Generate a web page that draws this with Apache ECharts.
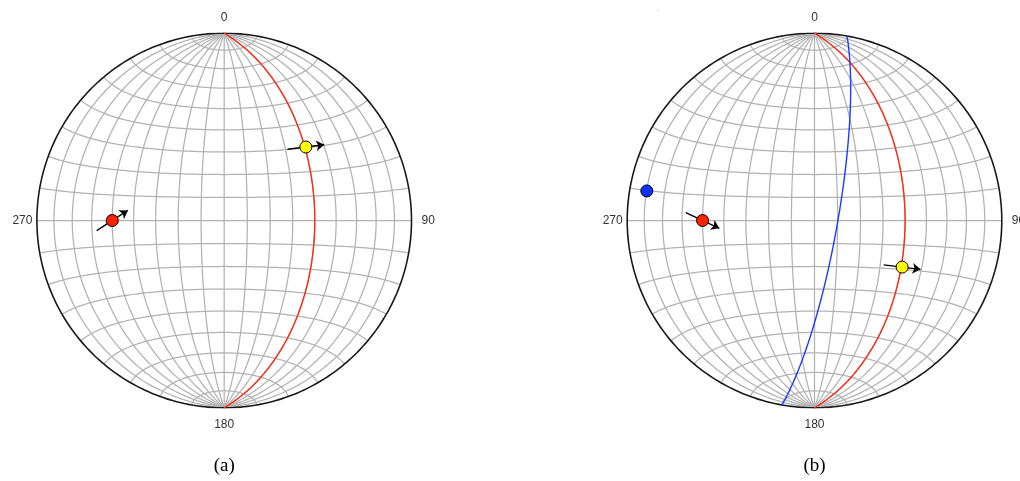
<!DOCTYPE html>
<html>
<head>
<meta charset="utf-8">
<script src="https://cdn.jsdelivr.net/npm/echarts@6/dist/echarts.min.js"></script>
<style>
html,body{margin:0;padding:0;background:#fff;}
#chart{width:1020px;height:481px;}
</style>
</head>
<body>
<div id="chart"></div>
<script>
// ---- Data (equal-area lower-hemisphere stereonets) ----
const panelLabels = ['(a)', '(b)'];
const directionLabels = ['0', '90', '180', '270'];

// Panel (a): one plane, its pole and a slip lineation
const planeA_dipDir = [90];
const planeA_dip = [50];
const planeA_color = ['#ff2a12'];
const pointA_trend = [270, 48];
const pointA_plunge = [40, 41];
const pointA_color = ['#ff2200', '#ffff00'];
const pointA_arrowAz = [57, 83];

// Panel (b): two planes, poles and slip lineation
const planeB_dipDir = [90, 100];
const planeB_dip = [50, 80];
const planeB_color = ['#ff2a12', '#1a3cff'];
const pointB_trend = [280, 270, 118];
const pointB_plunge = [10, 40, 46];
const pointB_color = ['#0a32ff', '#ff2200', '#ffff00'];
const pointB_arrowAz = [null, 115, 97];

// net grid spacing (degrees)
const gridStep = 10;

// ---- Projection helpers ----
const rad = Math.PI / 180;
function proj(e, n, d) {
  const k = 1 / Math.sqrt(1 + d);
  return [e * k, n * k];
}
function lineProj(trend, plunge) {
  const t = trend * rad, p = plunge * rad;
  return proj(Math.cos(p) * Math.sin(t), Math.cos(p) * Math.cos(t), Math.sin(p));
}
function netLines() {
  const out = [];
  for (let lam = -90 + gridStep; lam < 90; lam += gridStep) {
    const c = [];
    for (let phi = -90; phi <= 90; phi += 1) {
      const l = lam * rad, f = phi * rad;
      c.push(proj(Math.cos(f) * Math.sin(l), Math.sin(f), Math.cos(f) * Math.cos(l)));
    }
    out.push({ coords: c });
  }
  for (let phi = -90 + gridStep; phi < 90; phi += gridStep) {
    const c = [];
    for (let lam = -90; lam <= 90; lam += 1) {
      const l = lam * rad, f = phi * rad;
      c.push(proj(Math.cos(f) * Math.sin(l), Math.sin(f), Math.cos(f) * Math.cos(l)));
    }
    out.push({ coords: c });
  }
  return out;
}
function primitive() {
  const c = [];
  for (let a = 0; a <= 360; a += 1) c.push([Math.sin(a * rad), Math.cos(a * rad)]);
  return [{ coords: c }];
}
function greatCircle(dd, dip) {
  const s = [(Math.sin((dd - 90) * rad)), Math.cos((dd - 90) * rad), 0];
  const dv = [Math.cos(dip * rad) * Math.sin(dd * rad), Math.cos(dip * rad) * Math.cos(dd * rad), Math.sin(dip * rad)];
  const c = [];
  for (let t = 0; t <= 180; t += 1) {
    const ct = Math.cos(t * rad), st = Math.sin(t * rad);
    c.push(proj(ct * s[0] + st * dv[0], ct * s[1] + st * dv[1], ct * s[2] + st * dv[2]));
  }
  return c;
}
const arrowHalf = 0.099;
function arrows(trends, plunges, azs) {
  const out = [];
  trends.forEach((t, i) => {
    if (azs[i] == null) return;
    const p = lineProj(t, plunges[i]);
    const a = azs[i] * rad;
    out.push({ coords: [[p[0] - arrowHalf * Math.sin(a), p[1] - arrowHalf * Math.cos(a)],
                        [p[0] + arrowHalf * Math.sin(a), p[1] + arrowHalf * Math.cos(a)]] });
  });
  return out;
}

// ---- Build option ----
const R = 187.3;
const centers = [[224.2, 220.5], [814.5, 220.5]];
const series = [];
const grids = [], xAxes = [], yAxes = [];
const panels = [
  { dd: planeA_dipDir, dip: planeA_dip, pc: planeA_color, tr: pointA_trend, pl: pointA_plunge, col: pointA_color, az: pointA_arrowAz },
  { dd: planeB_dipDir, dip: planeB_dip, pc: planeB_color, tr: pointB_trend, pl: pointB_plunge, col: pointB_color, az: pointB_arrowAz }
];
panels.forEach((P, gi) => {
  const [cx, cy] = centers[gi];
  grids.push({ left: cx - R, top: cy - R, width: 2 * R, height: 2 * R, show: false });
  xAxes.push({ type: 'value', gridIndex: gi, min: -1, max: 1, show: false });
  yAxes.push({ type: 'value', gridIndex: gi, min: -1, max: 1, show: false });
  series.push({ type: 'lines', coordinateSystem: 'cartesian2d', xAxisIndex: gi, yAxisIndex: gi, polyline: true,
    data: netLines(), lineStyle: { color: '#b2b2b2', width: 1.25, opacity: 1 }, silent: true, z: 1 });
  series.push({ type: 'lines', coordinateSystem: 'cartesian2d', xAxisIndex: gi, yAxisIndex: gi, polyline: true,
    data: primitive(), lineStyle: { color: '#1a1a1a', width: 1.6, opacity: 1 }, silent: true, z: 2 });
  P.dd.forEach((d, k) => {
    series.push({ type: 'lines', coordinateSystem: 'cartesian2d', xAxisIndex: gi, yAxisIndex: gi, polyline: true,
      data: [{ coords: greatCircle(d, P.dip[k]) }], lineStyle: { color: P.pc[k], width: 1.4, opacity: 1 }, silent: true, z: 3 });
  });
  series.push({ type: 'lines', coordinateSystem: 'cartesian2d', xAxisIndex: gi, yAxisIndex: gi,
    data: arrows(P.tr, P.pl, P.az), symbol: ['none', 'arrow'], symbolSize: 8,
    lineStyle: { color: '#000', width: 1.3, opacity: 1 }, itemStyle: { color: '#000' }, silent: true, z: 4 });
  series.push({ type: 'scatter', xAxisIndex: gi, yAxisIndex: gi, symbolSize: 12,
    data: P.tr.map((t, i) => ({ value: lineProj(t, P.pl[i]), itemStyle: { color: P.col[i] } })),
    itemStyle: { borderColor: '#000', borderWidth: 1, opacity: 1 }, z: 5 });
});

const labelStyle = { fill: '#333', fontSize: 12, fontFamily: 'Liberation Sans, Arial, sans-serif' };
const graphics = [];
centers.forEach(([cx, cy], gi) => {
  graphics.push({ type: 'text', x: cx, y: cy - R - 16, style: Object.assign({ text: directionLabels[0], align: 'center', verticalAlign: 'middle' }, labelStyle) });
  graphics.push({ type: 'text', x: cx + R + 10, y: cy, style: Object.assign({ text: directionLabels[1], align: 'left', verticalAlign: 'middle' }, labelStyle) });
  graphics.push({ type: 'text', x: cx, y: cy + R + 17, style: Object.assign({ text: directionLabels[2], align: 'center', verticalAlign: 'middle' }, labelStyle) });
  graphics.push({ type: 'text', x: cx - R - 4.5, y: cy, style: Object.assign({ text: directionLabels[3], align: 'right', verticalAlign: 'middle' }, labelStyle) });
  graphics.push({ type: 'text', x: cx, y: 466, style: { text: panelLabels[gi], align: 'center', verticalAlign: 'middle', fill: '#000', fontSize: 19, fontFamily: 'Liberation Serif, Times New Roman, serif' } });
});
graphics.push({ type: 'circle', shape: { cx: 658, cy: 10, r: 0.6 }, style: { fill: '#999' } });

const chart = echarts.init(document.getElementById('chart'), null, { renderer: 'canvas' });
chart.setOption({
  animation: false,
  backgroundColor: '#fff',
  grid: grids,
  xAxis: xAxes,
  yAxis: yAxes,
  series: series,
  graphic: graphics
});
</script>
</body>
</html>
